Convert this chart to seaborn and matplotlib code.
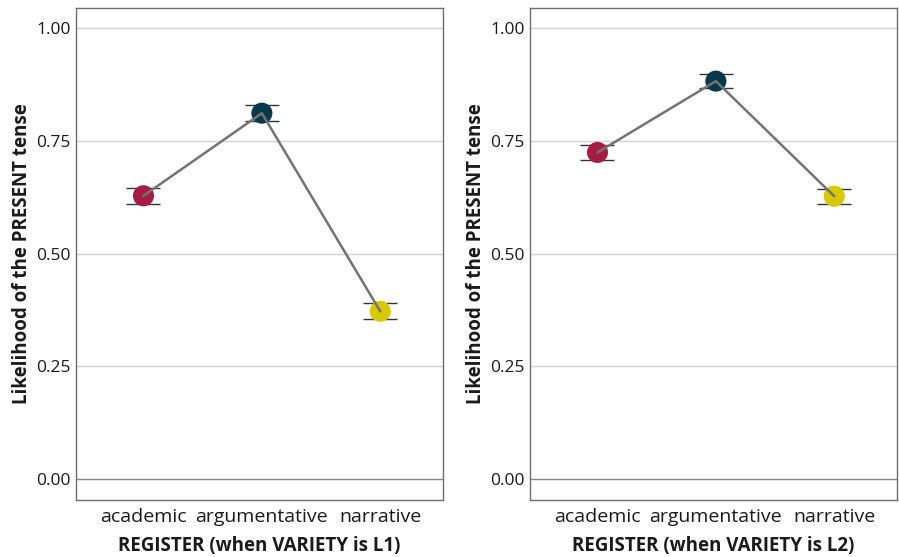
import numpy as np
import pandas as pd
import matplotlib
matplotlib.use("Agg")
import matplotlib.pyplot as plt
import seaborn as sns

registers = ["academic", "argumentative", "narrative"]
l1_mean = [0.628, 0.811, 0.372]
l1_low = [0.610, 0.794, 0.355]
l1_high = [0.645, 0.828, 0.390]
l2_mean = [0.724, 0.882, 0.627]
l2_low = [0.707, 0.867, 0.609]
l2_high = [0.741, 0.897, 0.644]
panel_xlabels = ["REGISTER (when VARIETY is L1)", "REGISTER (when VARIETY is L2)"]
ylabel = "Likelihood of the PRESENT tense"
yticks = [0.0, 0.25, 0.5, 0.75, 1.0]
ytick_labels = ["0.00", "0.25", "0.50", "0.75", "1.00"]
colors = ["#A61C45", "#08394A", "#D7C800"]

sns.set_theme(style="white")
plt.rcParams["font.family"] = ["Open Sans", "DejaVu Sans"]

fig = plt.figure(figsize=(8.99, 5.57), dpi=100)
ax1 = fig.add_axes([76/899, 1-500/557, (443-76)/899, (500-8)/557])
ax2 = fig.add_axes([530/899, 1-500/557, (897-530)/899, (500-8)/557])

panels = [(ax1, l1_mean, l1_low, l1_high), (ax2, l2_mean, l2_low, l2_high)]
for i, (ax, m, lo, hi) in enumerate(panels):
    df = pd.DataFrame({"pos": np.arange(len(registers)), "register": registers,
                       "mean": m, "low": lo, "high": hi})
    for y in yticks[1:]:
        ax.axhline(y, color="#d3d3d3", lw=1.0, zorder=0)
    ax.axhline(0.0, color="#888888", lw=1.0, zorder=0)
    ax.errorbar(df["pos"], df["mean"],
                yerr=[df["mean"] - df["low"], df["high"] - df["mean"]],
                fmt="none", ecolor="#333333", elinewidth=1.0, capsize=12, capthick=1.0, zorder=2)
    sns.scatterplot(data=df, x="pos", y="mean", hue="register", palette=colors,
                    s=230, edgecolor="none", legend=False, ax=ax, zorder=3)
    sns.lineplot(data=df, x="pos", y="mean", color="#737373", lw=1.8, ax=ax,
                 zorder=4, sort=False)
    ax.set_xlim(-0.57, 2.53)
    ax.set_ylim(-0.046, 1.044)
    ax.set_xticks(df["pos"])
    ax.set_xticklabels(registers, fontsize=14, color="#1a1a1a")
    ax.set_yticks(yticks)
    ax.set_yticklabels(ytick_labels, fontsize=12.5, color="#1a1a1a")
    ax.tick_params(axis="x", length=0, pad=6)
    ax.tick_params(axis="y", length=0, pad=4)
    ax.set_xlabel(panel_xlabels[i], fontsize=13.5, fontweight="bold", color="#1a1a1a", labelpad=7)
    ax.set_ylabel(ylabel, fontsize=13.5, fontweight="bold", color="#1a1a1a", labelpad=3)
    for sp in ax.spines.values():
        sp.set_color("#707070")
        sp.set_linewidth(1.0)
    ax.grid(False)

fig.savefig("out.png", dpi=100)
